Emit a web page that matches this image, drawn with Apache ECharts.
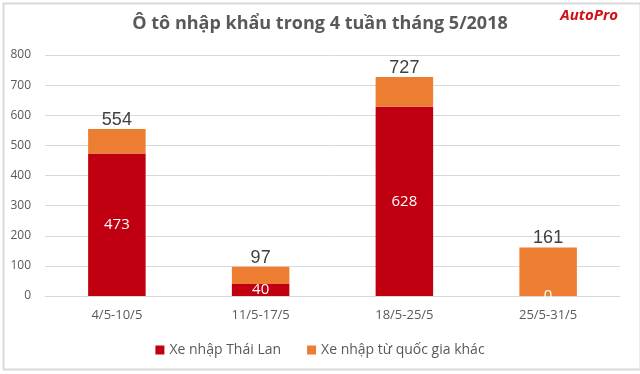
<!DOCTYPE html>
<html>
<head>
<meta charset="utf-8">
<script src="https://cdn.jsdelivr.net/npm/echarts@6/dist/echarts.min.js"></script>
<style>
  html, body { margin: 0; padding: 0; background: #fff; }
  #chart { width: 640px; height: 374px; }
</style>
</head>
<body>
<div id="chart"></div>
<script>
var weeks = ['4/5-10/5', '11/5-17/5', '18/5-25/5', '25/5-31/5'];
var thaiLan = [473, 40, 628, 0];
var otherCountries = [81, 57, 99, 161];
var yTicks = [0, 100, 200, 300, 400, 500, 600, 700, 800];

var totals = weeks.map(function(w, i) { return thaiLan[i] + otherCountries[i]; });

var font = '"Open Sans", "Noto Sans", sans-serif';
var chart = echarts.init(document.getElementById('chart'));

chart.setOption({
	animation: false,
	textStyle: { fontFamily: font },
	color: ['#C00010', '#ED7D31'],
	title: {
		text: 'Ô tô nhập khẩu trong 4 tuần tháng 5/2018',
		left: 'center',
		top: 10,
		textStyle: { fontFamily: font, fontSize: 18, fontWeight: 'bold', color: '#595959' }
	},
	graphic: [
		{ // khung ngoài
			type: 'rect', left: 1, top: 1, silent: true,
			shape: { width: 637, height: 366 },
			style: { fill: 'none', stroke: '#d9d9d9', lineWidth: 2 }
		},
		{ // logo
			type: 'text', right: 22, top: 8,
			style: { text: 'AutoPro', fill: '#d3101a', font: 'italic bold 15px ' + font }
		}
	],
	legend: {
		bottom: 12,
		left: 'center',
		itemWidth: 9,
		itemHeight: 9,
		itemGap: 26,
		icon: 'rect',
		textStyle: { fontSize: 14, color: '#595959', fontFamily: font },
		data: ['Xe nhập Thái Lan', 'Xe nhập từ quốc gia khác']
	},
	grid: { left: 45, right: 20, top: 55, bottom: 78 },
	xAxis: {
		type: 'category',
		data: weeks,
		axisLine: { lineStyle: { color: '#d9d9d9' } },
		axisTick: { show: false },
		axisLabel: { color: '#595959', fontSize: 13, margin: 13 }
	},
	yAxis: {
		type: 'value',
		min: yTicks[0],
		max: yTicks[yTicks.length - 1],
		interval: 100,
		axisLine: { show: false },
		axisTick: { show: false },
		splitLine: { lineStyle: { color: '#d9d9d9' } },
		axisLabel: { color: '#595959', fontSize: 12, margin: 14 }
	},
	series: [
		{
			name: 'Xe nhập Thái Lan',
			type: 'bar',
			stack: 'total',
			barWidth: '40%',
			data: thaiLan,
			label: { show: true, position: 'inside', color: '#fff', fontSize: 15 }
		},
		{
			name: 'Xe nhập từ quốc gia khác',
			type: 'bar',
			stack: 'total',
			barWidth: '40%',
			data: otherCountries,
			label: {
				show: true,
				position: 'top',
				distance: 0,
				color: '#404040',
				fontSize: 18,
				fontFamily: '"Liberation Sans", Arial, sans-serif',
				formatter: function(p) { return totals[p.dataIndex]; }
			}
		}
	]
});
</script>
</body>
</html>
